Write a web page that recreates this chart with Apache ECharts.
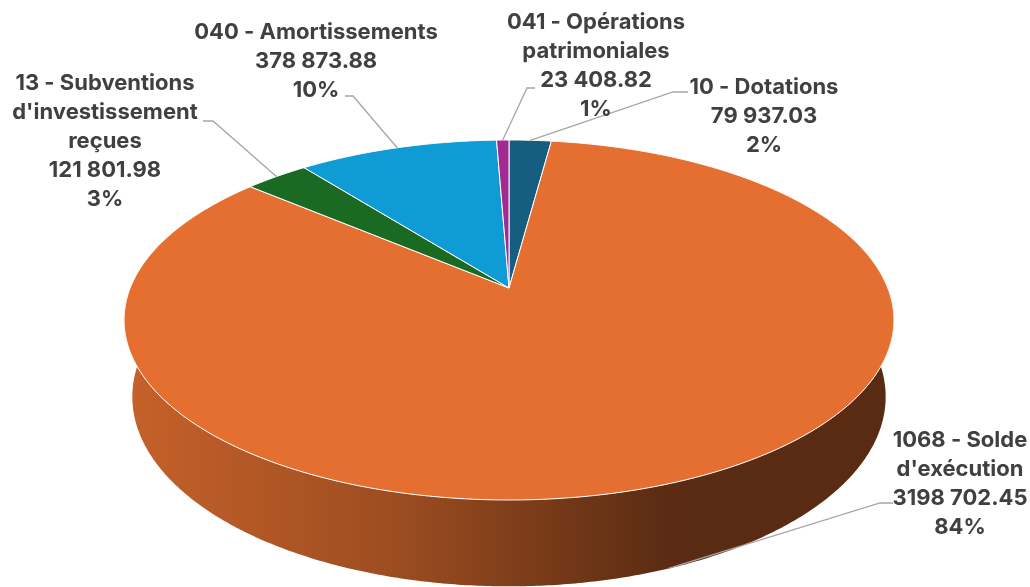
<!DOCTYPE html>
<html>
<head>
    <meta charset="utf-8">
    <title>Répartition</title>
    <script src="https://cdn.jsdelivr.net/npm/echarts@6/dist/echarts.min.js"></script>
</head>
<body style="margin:0">
    <div id="main" style="width: 1030px;height:587px;"></div>
    <script type="text/javascript">
    // données du graphique
    var categories = ['10 - Dotations', "1068 - Solde\nd'exécution", "13 - Subventions\nd'investissement\nreçues", '040 - Amortissements', '041 - Opérations\npatrimoniales'];
    var values = [79937.03, 3198702.45, 121801.98, 378873.88, 23408.82];
    var colors = ['#165E80', '#E46F30', '#1B6A24', '#0F9BD4', '#A12B93'];

    // emplacement des étiquettes : centre du texte, 1re ligne, et coude du trait de rappel
    var labelPos = [
        {x: 764, y: 87, elbow: [[688, 92], [673, 92]]},
        {x: 960, y: 440, elbow: [[893, 503], [880, 503]]},
        {x: 105, y: 83, elbow: [[203, 121], [213, 121]]},
        {x: 316, y: 32, elbow: [[345, 96], [353, 96]]},
        {x: 596, y: 22, elbow: [[535, 88], [527, 88]]}
    ];

    // vue 3D en perspective
    var cx = 509, cy = 288;
    var alpha = 27.4 * Math.PI / 180;
    var cosA = Math.cos(alpha), sinA = Math.sin(alpha);
    var D = 4.995, F = 1892, H = 0.23;
    var sideShade = [0.87, 0.69, 0.40, 0.39];

    function project(phi, y) {
        var r = phi * Math.PI / 180;
        var X = Math.sin(r), Z = -Math.cos(r);
        var w = D - Z * cosA - y * sinA;
        return [cx + X * F / w, cy + (Z * sinA - y * cosA) * F / w];
    }

    function shade(hex, k) {
        var n = parseInt(hex.slice(1), 16);
        var r = Math.round(((n >> 16) & 255) * k), g = Math.round(((n >> 8) & 255) * k), b = Math.round((n & 255) * k);
        return 'rgb(' + r + ',' + g + ',' + b + ')';
    }

    function fmt(v) {
        var p = v.toFixed(2).split('.');
        var head = p[0].slice(0, -3), tail = p[0].slice(-3);
        return (head ? head + ' ' : '') + tail + '.' + p[1];
    }

    function arc(a0, a1, y) {
        var n = Math.max(2, Math.ceil((a1 - a0) / 0.5));
        var pts = [];
        for (var k = 0; k <= n; k++) {
            pts.push(project(a0 + (a1 - a0) * k / n, y));
        }
        return pts;
    }

    var total = values.reduce(function (a, b) { return a + b; }, 0);
    var acc = 0;
    var slices = values.map(function (v) {
        var s = acc / total;
        acc += v;
        return [s, acc / total];
    });

    var xLeft = cx - F / Math.sqrt(D * D - cosA * cosA);
    var xRight = cx + F / Math.sqrt(D * D - cosA * cosA);

    function renderItem(params, api) {
        var i = params.dataIndex;
        var a0 = api.value(0) * 360, a1 = api.value(1) * 360;
        var children = [];

        // face supérieure
        var top = [[cx, cy]].concat(arc(a0, a1, 0));
        children.push({
            type: 'polygon', z2: 10,
            shape: {points: top},
            style: {fill: colors[i], stroke: '#ffffff', lineWidth: 1}
        });

        // paroi avant
        var f0 = Math.max(a0, 90), f1 = Math.min(a1, 270);
        if (f1 > f0) {
            var side = arc(f0, f1, 0).concat(arc(f0, f1, -H).reverse());
            children.push({
                type: 'polygon', z2: 5,
                shape: {points: side},
                style: {
                    fill: {
                        type: 'linear', x: xLeft, y: 0, x2: xRight, y2: 0, global: true,
                        colorStops: [
                            {offset: 0, color: shade(colors[i], sideShade[0])},
                            {offset: 0.35, color: shade(colors[i], sideShade[1])},
                            {offset: 0.7, color: shade(colors[i], sideShade[2])},
                            {offset: 1, color: shade(colors[i], sideShade[3])}
                        ]
                    }
                }
            });
        }

        // trait de rappel + étiquette
        var mid = (a0 + a1) / 2;
        var anchor = project(mid, (mid > 90 && mid < 270) ? -H : 0);
        var lp = labelPos[i];
        children.push({
            type: 'polyline', z2: 20,
            shape: {points: [lp.elbow[0], lp.elbow[1], anchor]},
            style: {stroke: '#A6A6A6', lineWidth: 1.3, fill: null}
        });
        var pct = Math.round((a1 - a0) / 3.6);
        children.push({
            type: 'text', z2: 30,
            x: lp.x, y: lp.y - 14.5,
            style: {
                text: categories[i] + '\n' + fmt(values[i]) + '\n' + pct + '%',
                fill: '#404040',
                fontFamily: 'Inter',
                fontWeight: 'bold',
                fontSize: 22,
                lineHeight: 29,
                align: 'center',
                verticalAlign: 'top'
            }
        });

        return {type: 'group', children: children};
    }

    var myChart = echarts.init(document.getElementById('main'));
    var option = {
        animation: false,
        series: [{
            type: 'custom',
            coordinateSystem: 'none',
            renderItem: renderItem,
            data: slices
        }]
    };
    myChart.setOption(option);
    </script>
</body>
</html>
